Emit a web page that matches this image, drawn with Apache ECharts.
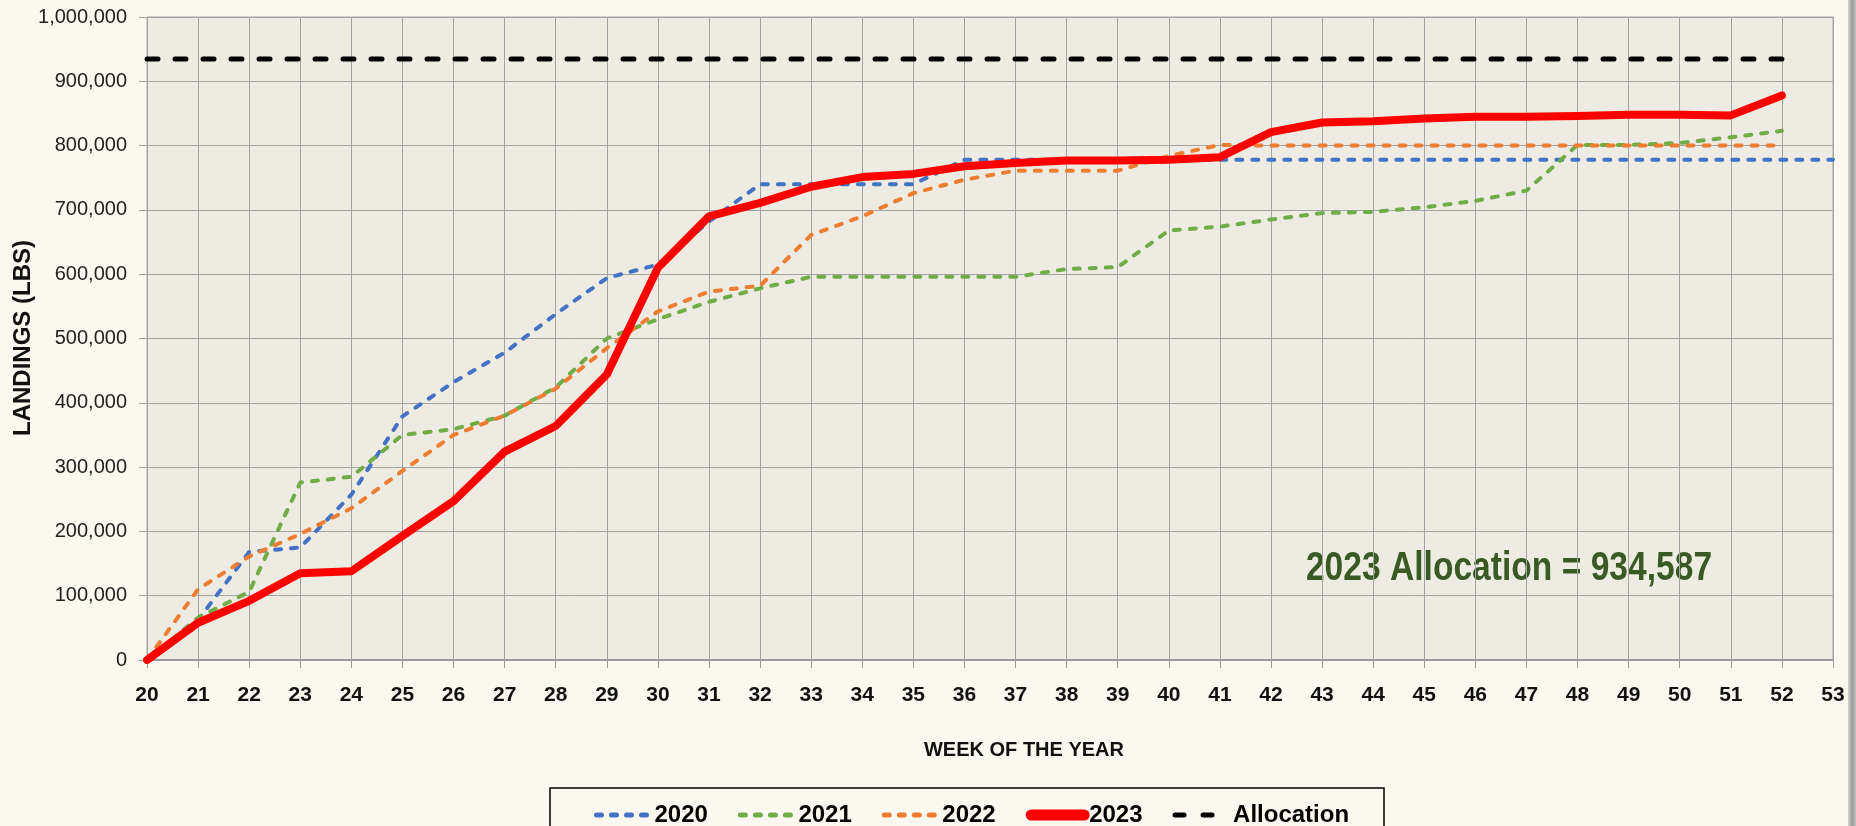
<!DOCTYPE html>
<html>
<head>
<meta charset="utf-8">
<title>Landings by week</title>
<script src="https://cdn.jsdelivr.net/npm/echarts/dist/echarts.min.js"></script>
<style>
    html, body { margin: 0; padding: 0; background: #fbf9ef; }
    #chart { width: 1856px; height: 826px; }
</style>
</head>
<body>
<div id="chart"></div>
<script>
// week of the year (x axis)
var weeks = ['20', '21', '22', '23', '24', '25', '26', '27', '28', '29', '30', '31', '32', '33', '34', '35', '36',
    '37', '38', '39', '40', '41', '42', '43', '44', '45', '46', '47', '48', '49', '50', '51', '52', '53'];

// cumulative landings (lbs), week 20 onward
var y2020 = [0, 62000, 168000, 175000, 257000, 379000, 432000, 478000, 538000, 594000, 615000, 682000, 740000,
    740000, 740000, 740000, 778000, 778000, 778000, 778000, 778000, 778000, 778000, 778000, 778000, 778000,
    778000, 778000, 778000, 778000, 778000, 778000, 778000, 778000];
var y2021 = [0, 66000, 106000, 276000, 285000, 350000, 359000, 380000, 424000, 500000, 530000, 557000, 578000,
    596000, 596000, 596000, 596000, 596000, 608000, 611000, 668000, 674000, 685000, 695000, 697000, 704000,
    714000, 730000, 801000, 801000, 804000, 813000, 823000];
var y2022 = [0, 110000, 161000, 196000, 236000, 294000, 350000, 380000, 422000, 485000, 542000, 573000, 582000,
    661000, 690000, 726000, 747000, 761000, 761000, 761000, 784000, 801000, 800000, 800000, 800000, 800000,
    800000, 800000, 800000, 800000, 800000, 800000, 800000];
var y2023 = [0, 58000, 92000, 135000, 138000, 193000, 247000, 324000, 364000, 444000, 610000, 690000, 711000,
    736000, 751000, 756000, 768000, 773000, 777000, 777000, 778000, 782000, 821000, 836000, 838000, 842000,
    845000, 845000, 846000, 848000, 848000, 847000, 878000];

var allocation = 934587;
var allocationWeeks = ['20', '52'];

var yTicks = { min: 0, max: 1000000, step: 100000 };

var myChart = echarts.init(document.getElementById('chart'));

var dashType = [6, 10];

function dashed(name, data, color) {
    return {
        name: name,
        type: 'line',
        data: data,
        symbol: 'none',
        lineStyle: { color: color, width: 4, type: dashType, cap: 'round', join: 'round' },
        itemStyle: { color: color }
    };
}

var option = {
    backgroundColor: '#fbf9ef',
    animation: false,
    grid: {
        left: 147,
        right: 23,
        top: 17,
        bottom: 166,
        show: true,
        backgroundColor: '#edebe2',
        borderColor: '#a3a3a3',
        borderWidth: 1,
        outerBoundsMode: 'none'
    },
    xAxis: {
        type: 'category',
        data: weeks,
        boundaryGap: false,
        axisLine: { lineStyle: { color: '#9a9a9a', width: 2 } },
        axisTick: { show: true, length: 8, interval: 0, lineStyle: { color: '#9a9a9a' } },
        axisLabel: {
            interval: 0,
            margin: 25,
            color: '#111',
            fontFamily: 'Liberation Sans',
            fontWeight: 'bold',
            fontSize: 21
        },
        splitLine: { show: true, interval: 0, lineStyle: { color: '#a3a3a3', width: 1 } }
    },
    yAxis: {
        type: 'value',
        min: yTicks.min,
        max: yTicks.max,
        interval: yTicks.step,
        axisLine: { show: true, lineStyle: { color: '#a3a3a3', width: 1 } },
        axisTick: { show: true, length: 8, lineStyle: { color: '#a3a3a3' } },
        axisLabel: {
            margin: 20,
            color: '#222',
            fontFamily: 'Liberation Sans',
            fontSize: 20,
            formatter: function (v) { return v.toLocaleString('en-US'); }
        },
        splitLine: { show: true, lineStyle: { color: '#a3a3a3', width: 1 } }
    },
    legend: {
        left: 589,
        top: 797,
        itemWidth: 53,
        itemHeight: 14,
        itemGap: 30,
        itemStyle: { opacity: 0 },
        textStyle: { color: '#000', fontFamily: 'Liberation Sans', fontWeight: 'bold', fontSize: 24, lineHeight: 26 },
        data: [
            { name: '2020', lineStyle: { width: 5, type: [5, 10], cap: 'round' } },
            { name: '2021', lineStyle: { width: 5, type: [5, 10], cap: 'round' } },
            { name: '2022', lineStyle: { width: 5, type: [5, 10], cap: 'round' } },
            { name: '2023', lineStyle: { width: 11, cap: 'round' } },
            { name: 'Allocation', lineStyle: { width: 5, type: [9, 19], cap: 'round' } }
        ]
    },
    graphic: [
        {
            type: 'rect',
            shape: { x: 550, y: 788, width: 834, height: 60 },
            style: { fill: 'none', stroke: '#000', lineWidth: 1.5 },
            silent: true
        },
        {
            type: 'text',
            x: 23,
            y: 338,
            rotation: Math.PI / 2,
            style: {
                text: 'LANDINGS (LBS)',
                fill: '#111',
                font: 'bold 24px "Liberation Sans"',
                align: 'center',
                verticalAlign: 'middle'
            }
        },
        {
            type: 'text',
            x: 1024,
            y: 750,
            style: {
                text: 'WEEK OF THE YEAR',
                fill: '#111',
                font: 'bold 20px "Liberation Sans"',
                align: 'center',
                verticalAlign: 'middle'
            }
        },
        {
            type: 'text',
            x: 1509,
            y: 569,
            scaleX: 0.84,
            style: {
                text: '2023 Allocation = ' + allocation.toLocaleString('en-US'),
                fill: '#3a5a24',
                font: 'bold 40px "Liberation Sans"',
                align: 'center',
                verticalAlign: 'middle'
            }
        },
        {
            type: 'rect',
            shape: { x: 1848, y: 0, width: 8, height: 826 },
            style: {
                fill: new echarts.graphic.LinearGradient(0, 0, 1, 0, [
                    { offset: 0, color: '#d6d6d6' },
                    { offset: 0.5, color: '#9c9c9c' },
                    { offset: 1, color: '#bdbdbd' }
                ])
            },
            silent: true
        }
    ],
    series: [
        dashed('2020', y2020, '#4472c4'),
        dashed('2021', y2021, '#70ad47'),
        dashed('2022', y2022, '#ed7d31'),
        {
            name: '2023',
            type: 'line',
            data: y2023,
            symbol: 'none',
            lineStyle: { color: '#ff0000', width: 8, cap: 'round', join: 'round' },
            itemStyle: { color: '#ff0000' }
        },
        {
            name: 'Allocation',
            type: 'line',
            data: allocationWeeks.map(function (w) { return [w, allocation]; }),
            symbol: 'none',
            lineStyle: { color: '#000', width: 5, type: [11, 17], cap: 'round' },
            itemStyle: { color: '#000' }
        }
    ]
};

option && myChart.setOption(option);
</script>
</body>
</html>
